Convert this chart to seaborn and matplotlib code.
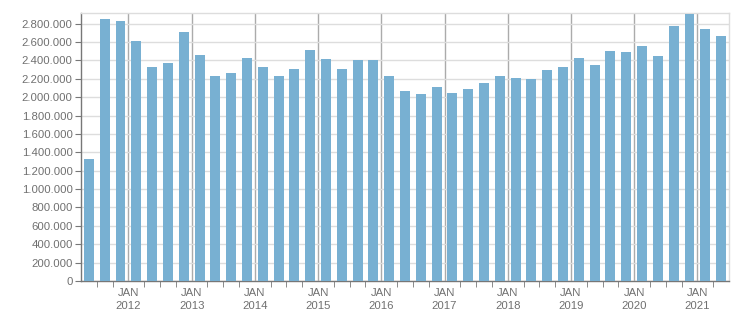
import matplotlib
matplotlib.use("Agg")
import matplotlib.pyplot as plt
import matplotlib.ticker as mticker
import seaborn as sns
import pandas as pd

quarters = [
    "2011Q2", "2011Q3", "2011Q4",
    "2012Q1", "2012Q2", "2012Q3", "2012Q4",
    "2013Q1", "2013Q2", "2013Q3", "2013Q4",
    "2014Q1", "2014Q2", "2014Q3", "2014Q4",
    "2015Q1", "2015Q2", "2015Q3", "2015Q4",
    "2016Q1", "2016Q2", "2016Q3", "2016Q4",
    "2017Q1", "2017Q2", "2017Q3", "2017Q4",
    "2018Q1", "2018Q2", "2018Q3", "2018Q4",
    "2019Q1", "2019Q2", "2019Q3", "2019Q4",
    "2020Q1", "2020Q2", "2020Q3", "2020Q4",
    "2021Q1", "2021Q2",
]
values = [
    1328000, 2851000, 2829000,
    2612000, 2329000, 2375000, 2709000,
    2459000, 2231000, 2263000, 2427000,
    2329000, 2231000, 2307000, 2514000,
    2416000, 2307000, 2405000, 2405000,
    2231000, 2067000, 2035000, 2111000,
    2046000, 2089000, 2155000, 2231000,
    2209000, 2198000, 2296000, 2329000,
    2427000, 2350000, 2503000, 2492000,
    2557000, 2448000, 2775000, 2905000,
    2742000, 2666000,
]
year_labels = ["JAN\n2012", "JAN\n2013", "JAN\n2014", "JAN\n2015", "JAN\n2016",
               "JAN\n2017", "JAN\n2018", "JAN\n2019", "JAN\n2020", "JAN\n2021"]

df = pd.DataFrame({"quarter": quarters, "value": values})

sns.set_style("white")
plt.rcParams["font.family"] = ["Liberation Sans", "DejaVu Sans"]

fig = plt.figure(figsize=(7.51, 3.13), dpi=100)
ax = fig.add_axes([81 / 751, 1 - 281 / 313, (729 - 81) / 751, (281 - 13) / 313])

sns.barplot(data=df, x="quarter", y="value", color="#78B0D2", saturation=1,
            width=0.63, ax=ax, zorder=3, edgecolor="none", linewidth=0)

n = len(quarters)
ax.set_xlim(-0.5, n - 0.5)
ax.set_ylim(0, 2915000)

year_pos = [2.5 + 4 * k for k in range(len(year_labels))]
ax.set_xticks(year_pos)
ax.set_xticklabels(year_labels)
ax.set_xticks([i + 0.5 for i in range(n - 1)], minor=True)

ax.yaxis.set_major_locator(mticker.MultipleLocator(200000))
ax.yaxis.set_major_formatter(mticker.FuncFormatter(lambda v, p: f"{v:,.0f}".replace(",", ".")))

ax.grid(axis="y", color="#DDDDDD", linewidth=1)
ax.grid(axis="x", which="major", color="#ABABAB", linewidth=1)
ax.set_axisbelow(True)

for s in ["top", "right"]:
    ax.spines[s].set_color("#DDDDDD")
    ax.spines[s].set_linewidth(1)
ax.spines["left"].set_color("#777777")
ax.spines["bottom"].set_color("#777777")
ax.spines["left"].set_linewidth(1)
ax.spines["bottom"].set_linewidth(1)

ax.tick_params(axis="y", which="major", length=4, color="#777777", labelsize=8.2,
               labelcolor="#707070", pad=2, left=True)
ax.tick_params(axis="x", which="major", length=0, labelsize=8.2, labelcolor="#707070", pad=5)
ax.tick_params(axis="x", which="minor", length=4, color="#777777", bottom=True)
for lbl in ax.get_xticklabels():
    lbl.set_linespacing(1.35)

ax.set_xlabel("")
ax.set_ylabel("")

fig.savefig("out.png", dpi=100)
